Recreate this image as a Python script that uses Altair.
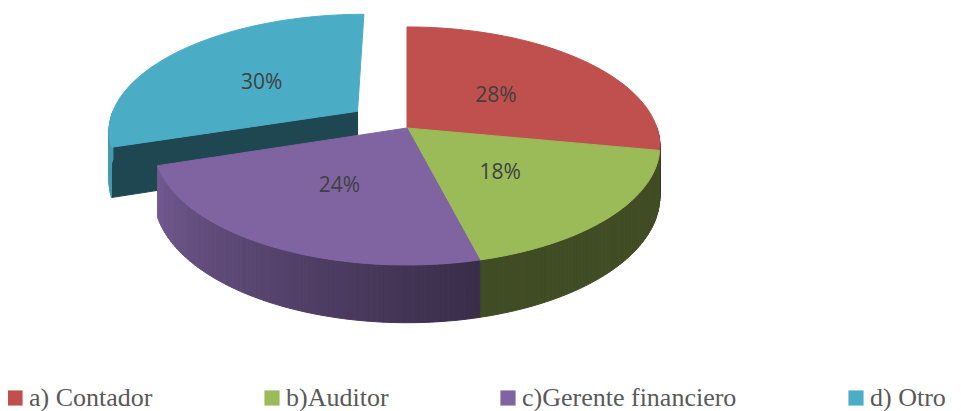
import altair as alt
import numpy as np
import pandas as pd

# ---- data ----
categories = ["a) Contador", "b)Auditor", "c)Gerente financiero", "d) Otro"]
percentages = [28, 18, 24, 30]
labels = ["28%", "18%", "24%", "30%"]
colors = ["#C0504D", "#9BBB59", "#8064A2", "#4BACC6"]
explode = [0.0, 0.0, 0.0, 0.25]

# ---- layout of the 3D projection (screen pixels) ----
CX, CY = 407, 128
SX, SY = 250, 116.3
PERSP = 0.151
DEPTH = 49
LABEL_R = 0.5


def project(X, Y, Z):
    den = 1 + PERSP * Y
    return CX + SX * X / den, CY + (-SY * Y + DEPTH * Z) / den


def shade(hexc, f):
    h = hexc.lstrip("#")
    r, g, b = (int(h[i:i + 2], 16) for i in (0, 2, 4))
    return "#%02x%02x%02x" % tuple(int(max(0, min(255, round(c * f)))) for c in (r, g, b))


def wall_factor(deg):
    deg = deg % 360
    if deg < 166:
        return 0.41
    return float(np.clip(0.45 + (deg - 166) * 0.0052, 0.41, 0.9))


wall_frames = []
top_rows = []
label_rows = []
cum = 0.0
for cat, pct, lab, col, ex in zip(categories, percentages, labels, colors, explode):
    a0 = cum * 3.6
    a1 = (cum + pct) * 3.6
    cum += pct
    mid = np.radians((a0 + a1) / 2)
    ox, oy = ex * np.sin(mid), ex * np.cos(mid)

    def pt(deg, r=1.0, z=0.0):
        t = np.radians(deg)
        return project(ox + r * np.sin(t), oy + r * np.cos(t), z)

    steps = np.linspace(a0, a1, max(2, int(round(a1 - a0)) + 1))
    # top face
    poly = [project(ox, oy, 0)] + [pt(d) for d in steps] + [project(ox, oy, 0)]
    for i, (x, y) in enumerate(poly):
        top_rows.append({"pid": cat, "cat": cat, "ord": i, "x": x, "y": y})

    # walls
    rows = []
    k = 0
    # radial walls (front facing only)
    for edge, is_start in ((a0, True), (a1, False)):
        s = np.sin(np.radians(edge))
        if (is_start and s < -1e-6) or ((not is_start) and s > 1e-6):
            normal = edge - 90 if is_start else edge + 90
            wc = shade(col, wall_factor(normal))
            quad = [project(ox, oy, 0), pt(edge), pt(edge, 1, 1), project(ox, oy, 1), project(ox, oy, 0)]
            for j, (x, y) in enumerate(quad):
                rows.append({"pid": f"{cat}-r{k:03d}", "ord": j, "x": x, "y": y, "col": wc})
            k += 1
    # outer wall segments
    for da, db in zip(steps[:-1], steps[1:]):
        m = (da + db) / 2
        if np.cos(np.radians(m)) < 0:
            wc = shade(col, wall_factor(m))
            quad = [pt(da), pt(db), pt(db, 1, 1), pt(da, 1, 1), pt(da)]
            for j, (x, y) in enumerate(quad):
                rows.append({"pid": f"{cat}-o{k:03d}", "ord": j, "x": x, "y": y, "col": wc})
            k += 1
    wall_frames.append((np.cos(mid), pd.DataFrame(rows)))

    lx, ly = project(ox + LABEL_R * np.sin(mid), oy + LABEL_R * np.cos(mid), 0)
    label_rows.append({"label": lab, "x": lx, "y": ly})

xs = alt.Scale(domain=[8, 953], nice=False, zero=False)
ys = alt.Scale(domain=[411, 8], nice=False, zero=False)

layers = []
for _, df in sorted(wall_frames, key=lambda t: -t[0]):
    if len(df) == 0:
        continue
    layers.append(
        alt.Chart(df).mark_line(strokeWidth=1, strokeJoin="round").encode(
            x=alt.X("x:Q", scale=xs, axis=None),
            y=alt.Y("y:Q", scale=ys, axis=None),
            detail="pid:N",
            order="ord:Q",
            fill=alt.Fill("col:N", scale=None),
            stroke=alt.Stroke("col:N", scale=None),
        )
    )

cat_scale = alt.Scale(domain=categories, range=colors)
tops = alt.Chart(pd.DataFrame(top_rows)).mark_line(strokeWidth=1, strokeJoin="round").encode(
    x=alt.X("x:Q", scale=xs, axis=None),
    y=alt.Y("y:Q", scale=ys, axis=None),
    detail="pid:N",
    order="ord:Q",
    fill=alt.Fill(
        "cat:N",
        scale=cat_scale,
        legend=alt.Legend(
            title=None,
            orient="none",
            legendX=-6,
            legendY=377,
            direction="horizontal",
            symbolType="square",
            symbolSize=230,
            symbolStrokeWidth=0,
            labelFont="Liberation Serif",
            labelFontSize=26,
            labelColor="#595959",
            labelLimit=400,
            labelOffset=1,
            columnPadding=106,
            padding=0,
        ),
    ),
    stroke=alt.Stroke("cat:N", scale=cat_scale, legend=None),
)

texts = alt.Chart(pd.DataFrame(label_rows)).mark_text(
    font="Open Sans", fontSize=21, color="#404040", align="center", baseline="middle", dy=3, dx=-3
).encode(
    x=alt.X("x:Q", scale=xs, axis=None),
    y=alt.Y("y:Q", scale=ys, axis=None),
    text="label:N",
)

chart = (
    alt.layer(*layers, tops, texts)
    .resolve_scale(fill="independent", stroke="independent")
    .properties(width=945, height=403, padding=0, autosize="none", background="white")
    .configure_view(stroke=None)
)

chart.save("out.html", embed_options={"renderer": "svg", "actions": False})
